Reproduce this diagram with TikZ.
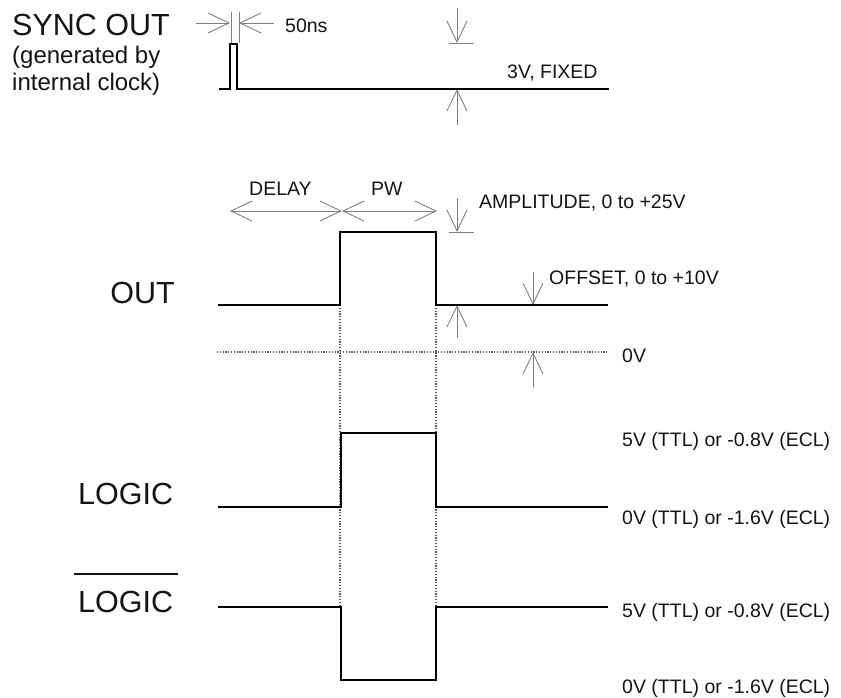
\documentclass[tikz,border=0pt]{standalone}
\usepackage{fontspec}
\setmainfont{Liberation Sans}
\usetikzlibrary{arrows.meta}
\begin{document}
\begin{tikzpicture}[x=1pt,y=-1pt,
  wave/.style={line width=2.5pt, line join=miter, draw=black},
  dim/.style={line width=0.9pt, draw=black!50},
  tipped/.style={dim, -{Straight Barb[length=21pt,width=20pt]}},
  both/.style={dim, {Straight Barb[length=21pt,width=20pt]}-{Straight Barb[length=21pt,width=20pt]}},
  gridline/.style={line width=1.2pt, draw=black!65, dash pattern=on 1.2pt off 1.6pt},
  big/.style={font=\fontsize{30.5}{36}\selectfont, inner sep=0pt, text=black!92},
  mid/.style={font=\fontsize{19.5}{23}\selectfont, inner sep=0pt, text=black!92},
  sub/.style={font=\fontsize{24}{28}\selectfont, inner sep=0pt, text=black!92},
]
\useasboundingbox (0,0) rectangle (841,698);

% texts
\node[big, anchor=base west] (sync) at (12,36) {SYNC OUT};
\node[sub, anchor=base west] (gen1) at (12,64) {(generated by};
\node[sub, anchor=base west] (gen2) at (12,91) {internal clock)};
\node[mid, anchor=base west] (ns) at (285,33) {50ns};
\node[mid, anchor=base west] (fixed) at (507,79) {3V, FIXED};
\node[mid, anchor=base west] (delay) at (249,195) {DELAY};
\node[mid, anchor=base west] (pw) at (371,195) {PW};
\node[mid, anchor=base west] (amp) at (479,208) {AMPLITUDE, 0 to +25V};
\node[mid, anchor=base west] (offs) at (549,284) {OFFSET, 0 to +10V};
\node[mid, anchor=base west] (zero) at (622,362) {0V};
\node[big, anchor=base east] (out) at (175,303) {OUT};
\node[big, anchor=base west] (logic) at (78,504) {LOGIC};
\node[big, anchor=base west] (nlogic) at (78,612) {LOGIC};
\draw[line width=1.4pt, black!92] (74,574) -- (178,574);
\node[mid, anchor=base west] (l1) at (622,446) {5V (TTL) or -0.8V (ECL)};
\node[mid, anchor=base west] (l2) at (622,524) {0V (TTL) or -1.6V (ECL)};
\node[mid, anchor=base west] (l3) at (622,617) {5V (TTL) or -0.8V (ECL)};
\node[mid, anchor=base west] (l4) at (622,693) {0V (TTL) or -1.6V (ECL)};

% dotted guides
\draw[gridline] (340,305) -- (340,607);
\draw[gridline] (436,305) -- (436,607);
\draw[gridline] (217,352) -- (609,352);

% waveforms
\draw[wave] (219,89) -- (230,89) -- (230,44) -- (237,44) -- (237,89) -- (609,89);
\draw[wave] (218,305) -- (340,305) -- (340,232) -- (436,232) -- (436,305) -- (608,305);
\draw[wave] (218,507) -- (341,507) -- (341,433) -- (436,433) -- (436,507) -- (608,507);
\draw[wave] (218,607) -- (341,607) -- (341,680) -- (436,680) -- (436,607) -- (608,607);

% 50ns
\draw[tipped] (196,23) -- (230,23);
\draw[tipped] (274,23) -- (239,23);
\draw[dim] (231,12) -- (231,43);
\draw[dim] (239,12) -- (239,43);

% 3V fixed
\draw[tipped] (457,8) -- (457,43);
\draw[dim] (449,43) -- (474,43);
\draw[tipped] (457,125) -- (457,89);

% delay / pw
\draw[both] (230,211) -- (342,211);
\draw[both] (342,211) -- (437,211);

% amplitude
\draw[tipped] (457,198) -- (457,232);
\draw[dim] (449,232) -- (474,232);
\draw[tipped] (457,338) -- (457,305);

% offset
\draw[tipped] (533,272) -- (533,305);
\draw[tipped] (533,387) -- (533,352);
\end{tikzpicture}
\end{document}
